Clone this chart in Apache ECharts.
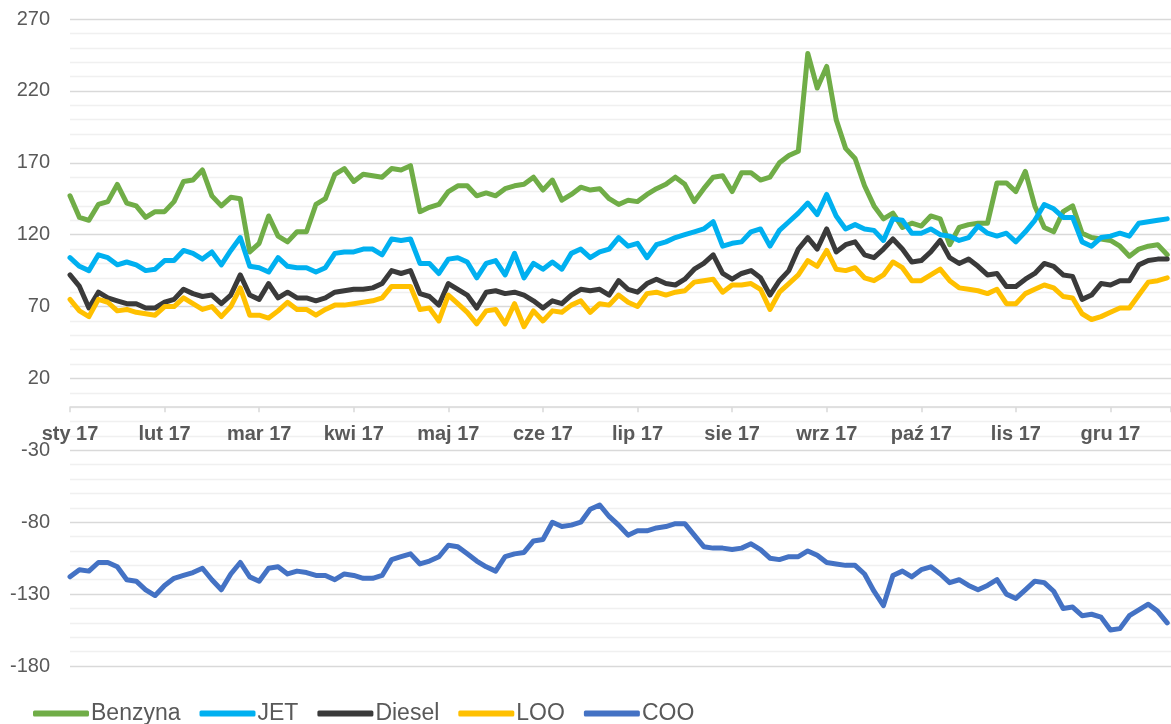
<!DOCTYPE html>
<html>
<head>
<meta charset="utf-8">
<script src="https://cdn.jsdelivr.net/npm/echarts@6/dist/echarts.min.js"></script>
<style>
html,body{margin:0;padding:0;background:#fff;}
#chart{width:1171px;height:724px;}
</style>
</head>
<body>
<div id="chart"></div>
<script>
// month labels on the x axis
var months = ['sty 17','lut 17','mar 17','kwi 17','maj 17','cze 17','lip 17','sie 17','wrz 17','paź 17','lis 17','gru 17'];
var step = 0.1; // one sample every 1/10 of a month

var benzyna = [
 147,132,130,141,143,155,142,140,132,136,
 136,143,157,158,165,147,140,146,145,108,
 114,133,119,115,122,122,141,145,162,166,
 157,162,161,160,166,165,168,136,139,141,
 150,154,154,147,149,147,152,154,155,160,
 151,158,144,148,153,151,152,145,141,144,
 143,148,152,155,160,155,143,152,160,161,
 150,163,163,158,160,170,175,178,246,222,
 237,200,180,173,154,140,131,135,125,128,
 126,133,131,113,125,127,128,128,156,156,
 150,164,140,125,122,136,140,121,118,117,
 116,112,105,110,112,113,106
];
var jet = [
 104,98,95,106,104,99,101,99,95,96,
 102,102,109,107,103,108,99,109,118,98,
 97,94,104,98,97,97,94,97,107,108,
 108,110,110,106,117,116,117,100,100,93,
 103,104,101,90,100,102,92,107,90,100,
 96,101,96,107,110,104,108,110,118,112,
 114,104,113,115,118,120,122,124,129,112,
 114,115,122,124,112,123,129,135,142,134,
 148,133,124,127,124,123,116,131,130,121,
 121,124,120,119,116,118,126,121,119,121,
 115,122,130,141,138,132,132,115,112,118,
 119,121,119,128,129,130,131
];
var diesel = [
 92,84,69,80,76,74,72,72,69,69,
 73,75,82,79,77,78,72,78,92,78,
 75,86,76,80,76,76,74,76,80,81,
 82,82,83,86,95,93,95,79,77,71,
 86,82,78,69,80,81,79,80,78,74,
 69,74,72,78,82,81,82,78,88,82,
 80,86,89,86,85,89,96,100,106,93,
 89,93,95,90,78,88,95,110,118,110,
 124,108,113,115,106,104,110,117,110,101,
 102,108,116,104,100,103,98,92,93,84,
 84,89,93,100,98,92,91,75,78,86,
 85,88,88,99,102,103,103
];
var loo = [
 75,67,63,75,73,67,68,66,65,64,
 70,70,76,72,68,70,63,70,83,64,
 64,62,67,73,68,68,64,68,71,71,
 72,73,74,76,84,84,84,68,69,60,
 78,72,66,58,67,68,58,72,56,67,
 60,67,66,71,74,66,72,71,78,73,
 70,79,80,78,80,81,87,88,89,80,
 85,85,86,82,68,80,86,92,102,98,
 109,96,95,97,90,88,92,101,97,88,
 88,92,96,88,83,82,81,79,82,72,
 72,79,82,85,83,77,76,65,61,63,
 66,69,69,78,87,88,90
];
var coo = [
 -118,-113,-114,-108,-108,-111,-120,-121,-127,-131,
 -124,-119,-117,-115,-112,-120,-127,-116,-108,-118,
 -121,-112,-111,-116,-114,-115,-117,-117,-120,-116,
 -117,-119,-119,-117,-106,-104,-102,-109,-107,-104,
 -96,-97,-102,-107,-111,-114,-104,-102,-101,-93,
 -92,-80,-83,-82,-80,-71,-68,-76,-82,-89,
 -86,-86,-84,-83,-81,-81,-89,-97,-98,-98,
 -99,-98,-95,-99,-105,-106,-104,-104,-100,-103,
 -108,-109,-110,-110,-116,-128,-138,-117,-114,-118,
 -113,-111,-116,-122,-120,-124,-127,-124,-120,-130,
 -133,-127,-121,-122,-128,-140,-139,-145,-144,-146,
 -155,-154,-145,-141,-137,-142,-150
];

function pts(arr) {
  return arr.map(function (v, i) { return [+(i * step).toFixed(2), v]; });
}

var font = 'Liberation Sans, Arial, sans-serif';
var xMax = 11.64;

function line(name, color, arr) {
  return {
    name: name,
    type: 'line',
    data: pts(arr),
    symbol: 'none',
    lineStyle: { color: color, width: 5, cap: 'round', join: 'round' },
    itemStyle: { color: color }
  };
}

var chart = echarts.init(document.getElementById('chart'));
chart.setOption({
  animation: false,
  backgroundColor: '#fff',
  grid: [
    { left: 70, right: 0, top: 19, bottom: 58 },
    // helper grid whose bottom edge sits on the zero line, only for the month labels
    { left: 70, right: 0, top: 19, height: 388.2 }
  ],
  legend: {
    data: ['Benzyna', 'JET', 'Diesel', 'LOO', 'COO'],
    left: 28,
    top: 697,
    icon: 'roundRect',
    itemWidth: 56,
    itemHeight: 6,
    itemGap: 19,
    textStyle: { color: '#595959', fontSize: 23, fontFamily: font, padding: [0, 0, 0, -3] }
  },
  xAxis: [{
    type: 'value',
    min: 0,
    max: xMax,
    interval: 1,
    axisLine: { onZero: true, lineStyle: { color: '#d9d9d9', width: 1.5 } },
    axisTick: { show: true, length: 5, lineStyle: { color: '#d9d9d9', width: 1.5 } },
    splitLine: { show: false },
    axisLabel: { show: false }
  }, {
    type: 'value',
    gridIndex: 1,
    min: 0,
    max: xMax,
    interval: 1,
    axisLine: { show: false },
    axisTick: { show: false },
    splitLine: { show: false },
    axisLabel: {
      margin: 17,
      color: '#595959',
      fontSize: 20,
      fontWeight: 'bold',
      fontFamily: font,
      showMaxLabel: false,
      formatter: function (v) {
        return Number.isInteger(v) && months[v] ? months[v] : '';
      }
    }
  }],
  yAxis: [{
    type: 'value',
    min: -180,
    max: 270,
    interval: 50,
    axisLine: { show: false },
    axisTick: { show: false },
    axisLabel: { color: '#595959', fontSize: 20, fontFamily: font, margin: 20 },
    splitLine: { lineStyle: { color: '#d9d9d9', width: 1.3 } },
    minorTick: { show: false, splitNumber: 5 },
    minorSplitLine: { show: true, lineStyle: { color: '#f0f0f0', width: 1.3 } }
  }, {
    type: 'value',
    gridIndex: 1,
    min: 0,
    max: 270,
    show: false
  }],
  series: [
    line('Benzyna', '#70ad47', benzyna),
    line('JET', '#00b0f0', jet),
    line('Diesel', '#3a3a3a', diesel),
    line('LOO', '#ffc000', loo),
    line('COO', '#4472c4', coo)
  ]
});
</script>
</body>
</html>
